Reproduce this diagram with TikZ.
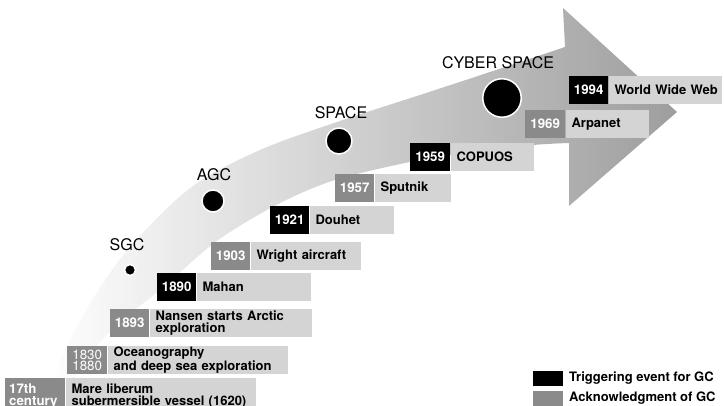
\documentclass[tikz,border=0pt]{standalone}
\usepackage{fontspec}
\setmainfont{TeX Gyre Heros}
\definecolor{yeargray}{RGB}{138,138,138}
\definecolor{panelgray}{RGB}{212,212,212}
\definecolor{bandend}{RGB}{158,158,158}
\tikzset{
  yearbox/.style={anchor=north west, minimum width=39pt, minimum height=28pt,
    inner sep=0pt, text=white, align=center,
    font=\fontsize{13.3}{11.5}\selectfont\bfseries},
  trig/.style={yearbox, fill=black},
  ackn/.style={yearbox, fill=yeargray},
  eventbox/.style={anchor=north west, fill=panelgray, minimum height=28pt,
    inner xsep=6pt, inner ysep=0pt, align=left,
    font=\fontsize{13}{11.5}\selectfont\bfseries},
  era/.style={font=\fontsize{16}{16}\selectfont, inner sep=0pt},
  dot/.style={circle, fill=black, draw=white, line width=1.5pt, inner sep=0pt},
  legendbox/.style={anchor=north west, minimum width=30pt, minimum height=15pt, inner sep=0pt},
  legendtext/.style={anchor=base west, inner sep=0pt,
    font=\fontsize{13}{13}\selectfont\bfseries},
}
\begin{document}
\begin{tikzpicture}[x=1pt, y=-1pt]
\useasboundingbox (0,0) rectangle (724,406);
\fill[white] (0,0) rectangle (724,406);
\clip (0,0) rectangle (724,406);

% curved timeline arrow, fading from white to grey
\shade[left color=white, right color=bandend]
  plot[smooth, tension=0.55] coordinates {(43,406) (70,340) (105,280) (140,236) (193,186) (260,150) (340,121) (420,95) (490,72) (565,47)}
  -- (563,8) -- (677,112) -- (569,206) -- (569,143)
  -- plot[smooth, tension=0.55] coordinates {(569,143) (533,145) (470,152) (410,162) (335,180) (280,203) (230,232) (203,252) (160,290) (120,322) (85,360) (60,406)}
  -- cycle;

% eras
\node[dot, minimum size=11pt] (sgc) at (130,270) {};
\node[dot, minimum size=22pt] (agc) at (213,201) {};
\node[dot, minimum size=26pt] (space) at (339,141) {};
\node[dot, minimum size=38.5pt] (cyber) at (502,98) {};
\node[era] (sgclbl) at (127,245) {SGC};
\node[era] (agclbl) at (214,175) {AGC};
\node[era] (spacelbl) at (341,113) {SPACE};
\node[era] (cyberlbl) at (498,63) {CYBER SPACE};

% events
\node[ackn, minimum height=36pt, align=left, text width=52pt, inner xsep=4pt] (y17) at (5,378) {17th\\century};
\node[eventbox, minimum height=36pt, text width=178pt] (e17) at (y17.north east) {\mbox{Mare liberum}\\\mbox{subermersible vessel (1620)}};

\node[ackn, minimum width=40pt, font=\fontsize{13.3}{11.5}\selectfont] (y1830) at (67,346) {1830\\1880};
\node[eventbox, text width=168pt] (e1830) at (y1830.north east) {\mbox{Oceanography}\\\mbox{and deep sea exploration}};

\node[ackn] (y1893) at (110,309) {1893};
\node[eventbox, text width=150pt] (e1893) at (y1893.north east) {\mbox{Nansen starts Arctic}\\\mbox{exploration}};

\node[trig] (y1890) at (157,273) {1890};
\node[eventbox, text width=102pt] (e1890) at (y1890.north east) {Mahan};

\node[ackn] (y1903) at (211,242) {1903};
\node[eventbox, text width=98pt] (e1903) at (y1903.north east) {\mbox{Wright aircraft}};

\node[trig] (y1921) at (270,206) {1921};
\node[eventbox, text width=72pt] (e1921) at (y1921.north east) {Douhet};

\node[ackn] (y1957) at (335,174) {1957};
\node[eventbox, text width=64pt] (e1957) at (y1957.north east) {Sputnik};

\node[trig, minimum width=40pt] (y1959) at (410,143) {1959};
\node[eventbox, text width=71pt] (e1959) at (y1959.north east) {COPUOS};

\node[ackn, minimum width=40pt] (y1969) at (525,110) {1969};
\node[eventbox, text width=71pt] (e1969) at (y1969.north east) {Arpanet};

\node[trig] (y1994) at (569,76) {1994};
\node[eventbox, text width=101pt] (e1994) at (y1994.north east) {\mbox{World Wide Web}};

% legend
\node[legendbox, fill=black] (legtrig) at (533,371) {};
\node[legendbox, fill=yeargray] (legack) at (533,391) {};
\node[legendtext] (legtrigtxt) at (569,382) {Triggering event for GC};
\node[legendtext] (legacktxt) at (569,402) {Acknowledgment of GC};
\end{tikzpicture}
\end{document}
